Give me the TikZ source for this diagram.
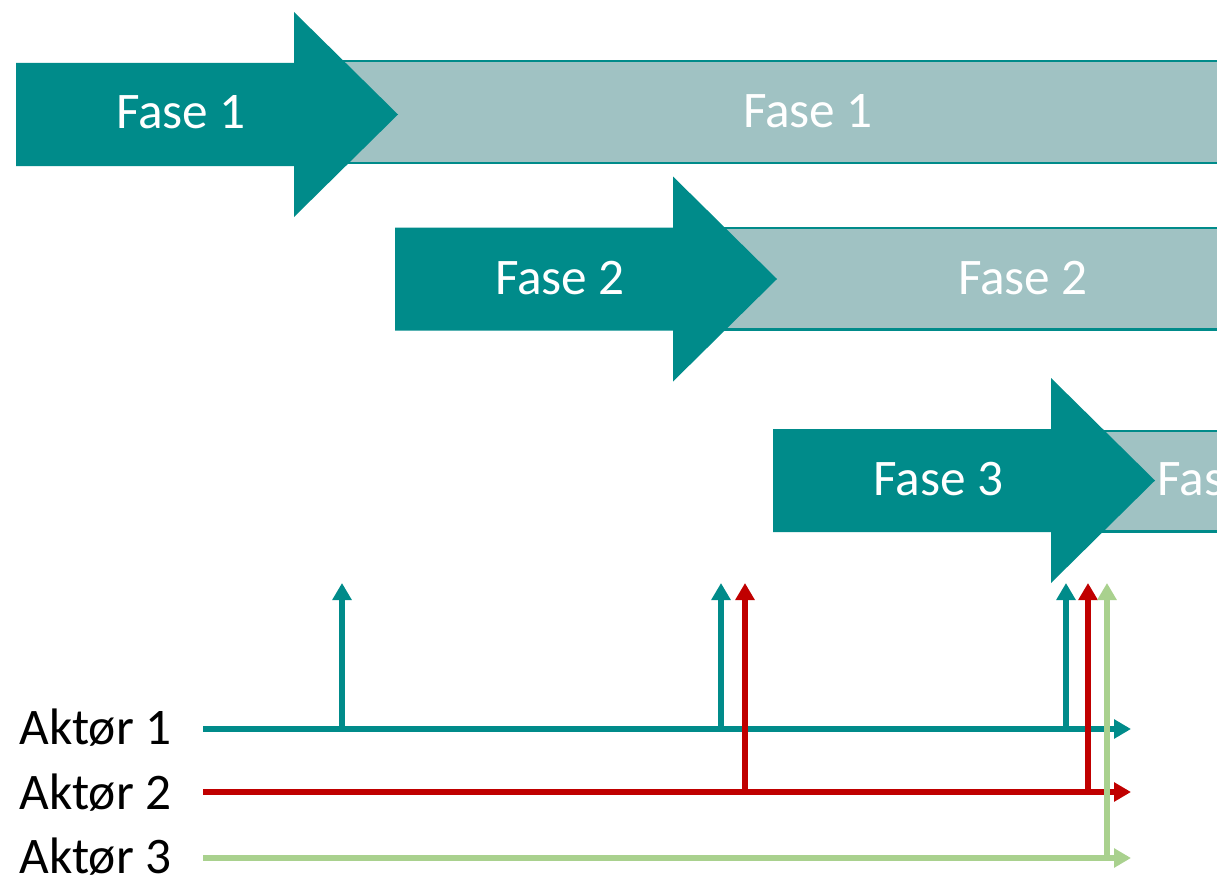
\documentclass[tikz,border=0pt]{standalone}
\usepackage{fontspec}
\setmainfont{Carlito}
\usepackage{xcolor}
\usepackage{tikz}
\usetikzlibrary{arrows.meta,positioning}
\definecolor{fteal}{HTML}{008B8A}
\definecolor{fgrey}{HTML}{A0C2C3}
\definecolor{fred}{HTML}{C00000}
\definecolor{fgreen}{HTML}{A9D18E}

% phase arrow: #1 = x of the tail, #2 = y of the centre line
\newcommand{\fasepil}[2]{%
  \fill[fteal] (#1,#2-51.5) -- ++(278,0) -- ++(0,-51) -- ++(104,102.5)
    -- ++(-104,102.5) -- ++(0,-51) -- ++(-278,0) -- cycle;}

\begin{document}
\begin{tikzpicture}[
      x=0.02cm, y=-0.02cm,
      bar/.style  = {fill=fgrey, draw=fteal, line width=1.4pt},
      ftxt/.style = {text=white, anchor=base, inner sep=0pt,
                     font=\fontsize{29.2}{35}\selectfont},
      atxt/.style = {text=black, anchor=base west, inner sep=0pt,
                     font=\fontsize{29.2}{35}\selectfont},
      tl/.style   = {line width=3.3pt, -{Triangle[length=0.34cm, width=0.37cm]}},
    ]
    \useasboundingbox (0,0) rectangle (1217,875);
    \clip (0,0) rectangle (1217,875);

    % ---- grey bars ----
    \draw[bar] (300,61)   rectangle (1260,163);
    \draw[bar] (680,228)  rectangle (1260,329.5);
    \draw[bar] (1058,431) rectangle (1300,531.5);

    % ---- phase arrows ----
    \fasepil{16}{114.5}
    \fasepil{395}{279}
    \fasepil{773}{480.5}

    \node[ftxt] (f1a) at (181,129)    {Fase 1};
    \node[ftxt] (f1b) at (808,127.5)  {Fase 1};
    \node[ftxt] (f2a) at (560,294.5)  {Fase 2};
    \node[ftxt] (f2b) at (1023,294.5) {Fase 2};
    \node[ftxt] (f3a) at (938.5,495)  {Fase 3};
    \node[ftxt] (f3b) at (1222.5,495) {Fase 3};

    % ---- actors ----
    \node[atxt] (ak1) at (19,744) {Aktør 1};
    \node[atxt] (ak2) at (19,809) {Aktør 2};
    \node[atxt] (ak3) at (19,873) {Aktør 3};

    \coordinate (s1) at (203,729);
    \coordinate (s2) at (203,792);
    \coordinate (s3) at (203,858);

    % Aktør 1
    \draw[tl, fteal] (s1) -- (1131,729);
    \draw[tl, fteal, line width=3pt] (342,729)  -- (342,583);
    \draw[tl, fteal, line width=3pt] (721,729)  -- (721,583);
    \draw[tl, fteal, line width=3pt] (1066,729) -- (1066,583);

    % Aktør 2
    \draw[tl, fred] (s2) -- (1131,792);
    \draw[tl, fred] (745,792)  -- (745,583);
    \draw[tl, fred] (1088,792) -- (1088,583);

    % Aktør 3
    \draw[tl, fgreen] (s3) -- (1131,858);
    \draw[tl, fgreen] (1107,858) -- (1107,583);
  \end{tikzpicture}
\end{document}
